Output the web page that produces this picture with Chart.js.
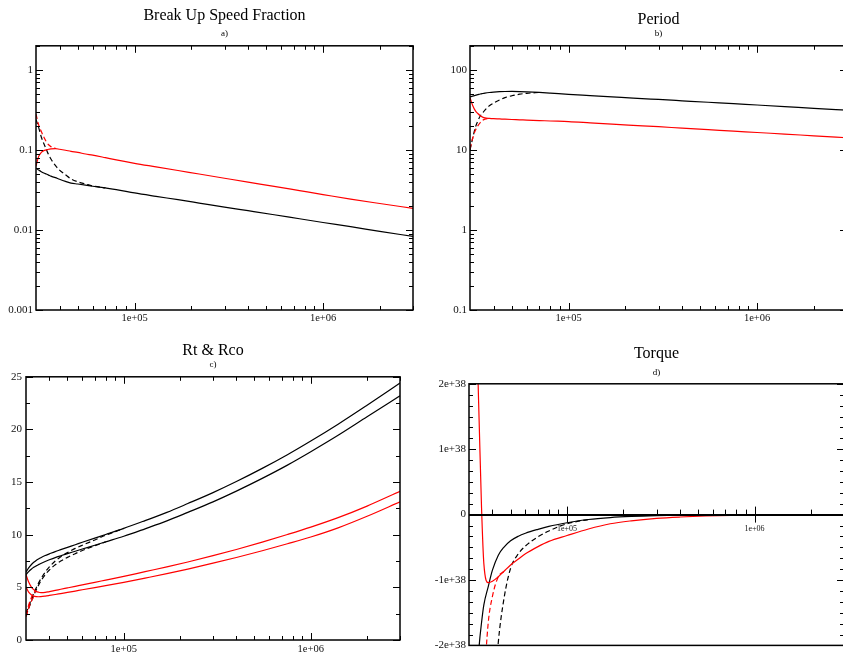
<!DOCTYPE html>
<html>
<head>
<meta charset="utf-8">
<script src="https://cdn.jsdelivr.net/npm/chart.js@4"></script>
<style>
html, body { margin: 0; padding: 0; width: 843px; height: 655px; overflow: hidden; background: #fff; }
canvas { position: absolute; }
</style>
</head>
<body>
<canvas id="chartA" width="420" height="330" style="left:0;top:0"></canvas>
<canvas id="chartB" width="430" height="330" style="left:420px;top:0"></canvas>
<canvas id="chartC" width="420" height="325" style="left:0;top:330px"></canvas>
<canvas id="chartD" width="430" height="325" style="left:420px;top:330px"></canvas>
<script>
// shared x grid (mass)
const mass = [30000, 31000, 32000, 33000, 34000, 35000, 36000, 38000, 40000, 43000, 46000, 50000, 55000, 60000,
  70000, 80000, 100000, 130000, 170000, 220000, 300000, 400000, 550000, 750000, 1000000, 1400000, 2000000, 3000000];
const xTicks = [100000, 1000000];
const xTickLabels = ["1e+05", "1e+06"];

// a) break up speed fraction
const breakupBlack = [0.059, 0.056, 0.0535, 0.0515, 0.050, 0.0485, 0.047, 0.045, 0.043, 0.0405, 0.0385, 0.0375, 0.0363, 0.0352,
  0.0335, 0.032, 0.029, 0.0263, 0.0239, 0.0217, 0.0193, 0.0174, 0.0155, 0.0138, 0.0124, 0.0110, 0.0096, 0.0083];
const breakupBlackDash = [0.24, 0.19, 0.145, 0.12, 0.102, 0.087, 0.077, 0.064, 0.056, 0.049, 0.0435, 0.040, 0.0375, 0.0354, 0.0335];
const breakupRed = [0.063, 0.083, 0.093, 0.098, 0.100, 0.102, 0.103, 0.104, 0.102, 0.099, 0.096, 0.093, 0.089, 0.086,
  0.080, 0.075, 0.068, 0.0614, 0.0553, 0.050, 0.0443, 0.0396, 0.0350, 0.0310, 0.0277, 0.0243, 0.0214, 0.0186];
const breakupRedDash = [0.28, 0.205, 0.17, 0.145, 0.127, 0.116, 0.11, 0.105];
const yTicksA = [0.001, 0.01, 0.1, 1];
const yLabelsA = ["0.001", "0.01", "0.1", "1"];

// b) period
const periodBlack = [46, 47, 48, 49, 50, 50.7, 51.3, 52.2, 52.8, 53.4, 53.7, 53.8, 53.6, 53.2,
  52.3, 51.3, 49.5, 47.8, 46.1, 44.5, 42.7, 41.1, 39.4, 37.8, 36.4, 34.8, 33.1, 31.4];
const periodBlackDash = [10, 14, 19, 23, 26.5, 29, 31.5, 35.6, 38.5, 42, 45, 47.5, 49.7, 51, 52.3];
const periodRed = [45, 36, 31, 28.5, 26.8, 25.7, 25.1, 24.8, 24.6, 24.4, 24.2, 24.0, 23.8, 23.6,
  23.3, 23.0, 22.6, 21.8, 21.0, 20.3, 19.5, 18.7, 17.9, 17.2, 16.5, 15.8, 15.0, 14.2];
const periodRedDash = [10.3, 14, 17.5, 20, 22, 23.5, 24.3, 24.8];
const yTicksB = [0.1, 1, 10, 100];
const yLabelsB = ["0.1", "1", "10", "100"];

// c) Rt & Rco
const rtBlack = [6.45, 6.85, 7.15, 7.38, 7.56, 7.7, 7.82, 8.02, 8.18, 8.4, 8.58, 8.8, 9.05, 9.28,
  9.68, 10.02, 10.6, 11.34, 12.12, 12.96, 14.0, 15.05, 16.3, 17.6, 18.9, 20.5, 22.3, 24.4];
const rcoBlack = [6.2, 6.5, 6.72, 6.9, 7.04, 7.16, 7.27, 7.46, 7.62, 7.83, 8.0, 8.2, 8.43, 8.64,
  9.0, 9.32, 9.85, 10.56, 11.31, 12.12, 13.12, 14.14, 15.35, 16.61, 17.88, 19.44, 21.2, 23.2];
const rtBlackDash = [2.5, 3.2, 3.85, 4.45, 4.95, 5.4, 5.8, 6.45, 6.95, 7.5, 7.9, 8.3, 8.7, 9.0, 9.5, 9.95, 10.6];
const rcoBlackDash = [2.3, 3.0, 3.65, 4.25, 4.75, 5.2, 5.6, 6.2, 6.65, 7.15, 7.5, 7.85, 8.2, 8.5, 8.95, 9.32];
const rtRed = [6.2, 5.5, 5.05, 4.78, 4.62, 4.54, 4.5, 4.52, 4.6, 4.71, 4.82, 4.95, 5.1, 5.24,
  5.48, 5.69, 6.04, 6.49, 6.94, 7.41, 8.01, 8.6, 9.3, 10.02, 10.72, 11.62, 12.72, 14.12];
const rcoRed = [5.05, 4.55, 4.3, 4.17, 4.12, 4.11, 4.12, 4.17, 4.23, 4.32, 4.41, 4.52, 4.65, 4.77,
  4.98, 5.16, 5.48, 5.88, 6.3, 6.74, 7.3, 7.84, 8.48, 9.14, 9.78, 10.65, 11.75, 13.12];
const rtRedDash = [2.4, 3.3, 4.0, 4.5, 4.62];
const rcoRedDash = [2.2, 3.0, 3.65, 4.05, 4.12];
const yTicksC = [0, 5, 10, 15, 20, 25];
const yLabelsC = ["0", "5", "10", "15", "20", "25"];

// d) torque
const torqueRed = [9e38, 6.5e38, 4.5e38, 2.8e38, 1.4e38, 0.1e38, -0.75e38, -1.04e38, -1.02e38, -0.95e38, -0.87e38, -0.77e38, -0.68e38, -0.6e38,
  -0.49e38, -0.41e38, -0.32e38, -0.22e38, -0.14e38, -0.095e38, -0.058e38, -0.037e38, -0.021e38, -0.012e38, -0.007e38, -0.004e38, -0.002e38, -0.001e38];
const torqueBlack = [-6e38, -4.6e38, -3.5e38, -2.6e38, -2.0e38, -1.65e38, -1.38e38, -1.1e38, -0.85e38, -0.62e38, -0.5e38, -0.4e38, -0.33e38, -0.285e38,
  -0.225e38, -0.18e38, -0.125e38, -0.075e38, -0.045e38, -0.028e38, -0.016e38, -0.01e38, -0.006e38, -0.004e38, -0.002e38, -0.001e38, -0.0005e38, -0.0003e38];
const torqueRedDash = [null, null, null, null, null, null, -2.6e38, -1.65e38, -1.25e38, -0.95e38, -0.87e38];
const torqueBlackDash = [null, null, null, null, null, null, null, null, -3.2e38, -1.95e38, -1.3e38, -0.82e38, -0.6e38, -0.48e38,
  -0.34e38, -0.25e38, -0.14e38, -0.075e38];
const yTicksD = [-2e38, -1e38, 0, 1e38, 2e38];
const yLabelsD = ["-2e+38", "-1e+38", "0", "1e+38", "2e+38"];

const serif = "Liberation Serif";

function pts(ys) {
  return ys.map((y, i) => ({ x: mass[i], y: y }));
}

function line(ys, color, dashed) {
  return {
    data: pts(ys),
    borderColor: color,
    borderWidth: 1.2,
    borderDash: dashed ? [5, 3] : [],
    pointRadius: 0,
    cubicInterpolationMode: "monotone",
    spanGaps: false
  };
}

// log minor ticks 2..9 per decade inside a range
function logMinors(lo, hi) {
  const out = [];
  for (let d = Math.floor(Math.log10(lo)); d <= Math.ceil(Math.log10(hi)); d++) {
    for (let k = 2; k <= 9; k++) {
      const v = k * Math.pow(10, d);
      if (v > lo && v <= hi) out.push(v);
    }
  }
  return out;
}

// inward ticks and the frame, grace style
const frameTicks = {
  id: "frameTicks",
  afterDatasetsDraw(chart, args, o) {
    const ctx = chart.ctx, a = chart.chartArea;
    const sx = chart.scales.x, sy = chart.scales.y;
    ctx.save();
    ctx.strokeStyle = "#000";
    ctx.lineWidth = 1;
    const vt = (v, y0, len) => {
      const p = Math.round(sx.getPixelForValue(v)) + 0.5;
      ctx.beginPath(); ctx.moveTo(p, y0); ctx.lineTo(p, y0 + len); ctx.stroke();
    };
    const ht = (v, x0, len) => {
      const p = Math.round(sy.getPixelForValue(v)) + 0.5;
      ctx.beginPath(); ctx.moveTo(x0, p); ctx.lineTo(x0 + len, p); ctx.stroke();
    };
    if (o.zeroAxis) {
      const zy = sy.getPixelForValue(0);
      o.xMinor.forEach(v => vt(v, zy, -5));
      o.xMajor.forEach(v => vt(v, zy - 8, 16));
    } else {
      o.xMinor.forEach(v => { vt(v, a.bottom, -4); vt(v, a.top, 4); });
      o.xMajor.forEach(v => { vt(v, a.bottom, -7); vt(v, a.top, 7); });
    }
    o.yMinor.forEach(v => { ht(v, a.left, 4); ht(v, a.right, -4); });
    o.yMajor.forEach(v => { ht(v, a.left, 7); ht(v, a.right, -7); });
    if (o.zeroAxis) {
      ctx.lineWidth = 2;
      const zy = Math.round(sy.getPixelForValue(0));
      ctx.beginPath(); ctx.moveTo(a.left, zy); ctx.lineTo(a.right, zy); ctx.stroke();
    }
    ctx.lineWidth = 1.5;
    ctx.strokeRect(a.left, a.top, a.right - a.left, a.bottom - a.top);
    ctx.restore();
  }
};

function makeChart(id, cfg) {
  const yScale = {
    type: cfg.yType,
    min: cfg.yMin,
    max: cfg.yMax,
    grid: { display: false, drawTicks: false },
    border: { display: false },
    afterFit: s => { s.width = cfg.yWidth; },
    afterBuildTicks: s => { s.ticks = cfg.yTicks.map(v => ({ value: v })); },
    ticks: {
      padding: cfg.yPad,
      color: "#111",
      font: { family: serif, size: 11 },
      callback: (v, i) => cfg.yLabels[i]
    }
  };
  const xScale = {
    type: "logarithmic",
    min: 30000,
    max: 3000000,
    grid: { display: false, drawTicks: false },
    border: { display: false },
    afterFit: s => { s.height = cfg.xHeight; },
    afterBuildTicks: s => { s.ticks = xTicks.map(v => ({ value: v })); },
    ticks: {
      padding: cfg.xPad,
      maxRotation: 0,
      autoSkip: false,
      color: "#111",
      font: { family: serif, size: cfg.xFont },
      callback: (v, i) => xTickLabels[i]
    }
  };
  if (cfg.zeroAxis) xScale.position = { y: 0 };
  return new Chart(document.getElementById(id), {
    type: "line",
    data: { datasets: cfg.datasets },
    options: {
      responsive: false,
      animation: false,
      events: [],
      layout: { padding: cfg.padding },
      scales: { x: xScale, y: yScale },
      plugins: {
        legend: { display: false },
        tooltip: { enabled: false },
        title: {
          display: true,
          text: cfg.title,
          fullSize: false,
          color: "#000",
          font: { family: serif, size: 16, weight: "normal", lineHeight: 1 },
          padding: { top: cfg.titlePad[0], bottom: 0 }
        },
        subtitle: {
          display: true,
          text: cfg.sub,
          fullSize: false,
          color: "#000",
          font: { family: serif, size: 9, weight: "normal", lineHeight: 1.2 },
          padding: { top: cfg.titlePad[1], bottom: cfg.titlePad[2] }
        },
        frameTicks: {
          xMajor: xTicks,
          xMinor: logMinors(30000, 3000000).filter(v => xTicks.indexOf(v) < 0),
          yMajor: cfg.yTicks,
          yMinor: cfg.yMinor,
          zeroAxis: !!cfg.zeroAxis
        }
      }
    },
    plugins: [frameTicks]
  });
}

makeChart("chartA", {
  title: "Break Up Speed Fraction", sub: "a)", titlePad: [7.3, 5.2, 6.5],
  yType: "logarithmic", yMin: 0.001, yMax: 2, yTicks: yTicksA, yLabels: yLabelsA,
  yMinor: logMinors(0.001, 2).filter(v => yTicksA.indexOf(v) < 0),
  yWidth: 36, yPad: 3, xHeight: 20, xPad: 2, xFont: 10.5,
  padding: { left: 0, right: 7, top: 0, bottom: 0 },
  datasets: [
    line(breakupRedDash, "#ff0000", true),
    line(breakupRed, "#ff0000", false),
    line(breakupBlackDash, "#000000", true),
    line(breakupBlack, "#000000", false)
  ]
});

makeChart("chartB", {
  title: "Period", sub: "b)", titlePad: [11.7, 0.8, 6.5],
  yType: "logarithmic", yMin: 0.1, yMax: 200, yTicks: yTicksB, yLabels: yLabelsB,
  yMinor: logMinors(0.1, 200).filter(v => yTicksB.indexOf(v) < 0),
  yWidth: 50, yPad: 3, xHeight: 20, xPad: 2, xFont: 10.5,
  padding: { left: 0, right: 3, top: 0, bottom: 0 },
  datasets: [
    line(periodRedDash, "#ff0000", true),
    line(periodRed, "#ff0000", false),
    line(periodBlackDash, "#000000", true),
    line(periodBlack, "#000000", false)
  ]
});

makeChart("chartC", {
  title: "Rt & Rco", sub: "c)", titlePad: [12.8, 0.7, 6.5],
  yType: "linear", yMin: 0, yMax: 25, yTicks: yTicksC, yLabels: yLabelsC,
  yMinor: [2.5, 7.5, 12.5, 17.5, 22.5],
  yWidth: 26, yPad: 4, xHeight: 15, xPad: 3, xFont: 10.5,
  padding: { left: 0, right: 20, top: 0, bottom: 0 },
  datasets: [
    line(rtRedDash, "#ff0000", true),
    line(rcoRedDash, "#ff0000", true),
    line(rtRed, "#ff0000", false),
    line(rcoRed, "#ff0000", false),
    line(rtBlackDash, "#000000", true),
    line(rcoBlackDash, "#000000", true),
    line(rtBlack, "#000000", false),
    line(rcoBlack, "#000000", false)
  ]
});

const minorD = [];
for (let k = -12; k <= 12; k++) { if (k % 6 !== 0) minorD.push(k * 1e38 / 6); }

makeChart("chartD", {
  title: "Torque", sub: "d)", titlePad: [15.8, 5.2, 6],
  yType: "linear", yMin: -2e38, yMax: 2e38, yTicks: yTicksD, yLabels: yLabelsD,
  yMinor: minorD,
  yWidth: 49, yPad: 3, xHeight: 0, xPad: 10, xFont: 8, zeroAxis: true,
  padding: { left: 0, right: 6, top: 0, bottom: 8 },
  datasets: [
    line(torqueRedDash, "#ff0000", true),
    line(torqueRed, "#ff0000", false),
    line(torqueBlackDash, "#000000", true),
    line(torqueBlack, "#000000", false)
  ]
});
</script>
</body>
</html>
